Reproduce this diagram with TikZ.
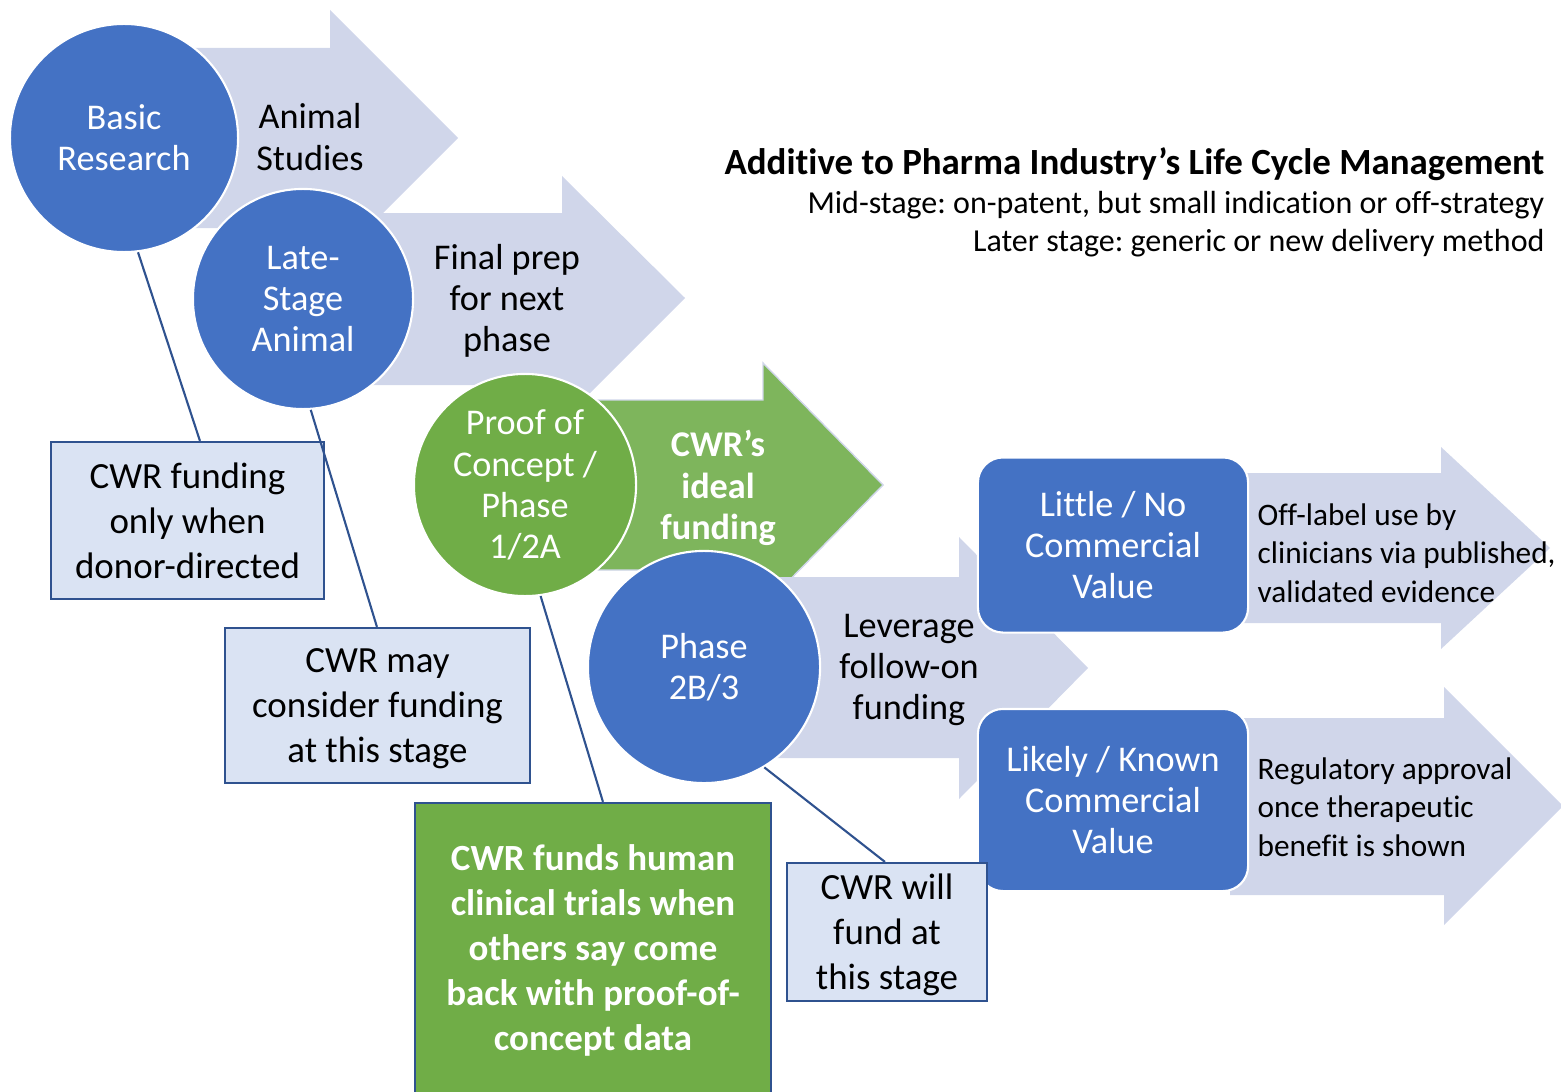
\documentclass[tikz,border=0pt]{standalone}
\usepackage{fontspec}
\setmainfont[RawFeature={-liga;-clig;-calt}]{Carlito}
\usetikzlibrary{positioning}

\definecolor{stageblue}{HTML}{4472C4}
\definecolor{stagegreen}{HTML}{70AD47}
\definecolor{idealgreen}{HTML}{7EB55C}
\definecolor{flowgrey}{HTML}{D0D6EA}
\definecolor{notefill}{HTML}{DAE3F3}
\definecolor{noteline}{HTML}{2F528F}

\newcommand\stagefont{\fontsize{10.3}{11.7}\selectfont}
\newcommand\notefont{\fontsize{10.5}{12.8}\selectfont}
\newcommand\outfont{\fontsize{8.9}{10.95}\selectfont}
\newcommand\subfont{\fontsize{9.1}{10.8}\selectfont}
\frenchspacing

\tikzset{
  flow/.style={fill=flowgrey},
  ideal/.style={fill=idealgreen, draw=flowgrey, line width=0.4pt},
  stage/.style={circle, fill=stageblue, draw=white, line width=0.6pt, text=white,
    align=center, inner sep=0pt, font=\stagefont},
  valuebox/.style={rectangle, rounded corners=0.25cm, fill=stageblue, draw=white,
    line width=0.6pt, text=white, align=center, inner sep=0pt, font=\stagefont},
  note/.style={rectangle, fill=notefill, draw=noteline, line width=0.6pt,
    align=center, inner sep=0pt, font=\notefont},
  flowtext/.style={align=center, inner sep=0pt, font=\stagefont},
  outcome/.style={align=left, inner sep=0pt, font=\outfont},
  lead/.style={draw=noteline, line width=0.6pt},
}

\begin{document}
\begin{tikzpicture}[x=0.01cm, y=-0.01cm]
  \useasboundingbox (0,0) rectangle (1561,1091);

  % stages
  \fill[flow] (180,48) -- (330,48) -- (330,10) -- (458,138) -- (330,266) -- (330,228) -- (180,228) -- cycle;
  \node[stage, minimum size=2.28cm] (basic) at (124,138) {Basic\\Research};
  \fill[flow] (350,213) -- (562,213) -- (562,176) -- (685,298) -- (562,421) -- (562,385) -- (350,385) -- cycle;
  \node[stage, minimum size=2.20cm] (late) at (303,299) {Late-\\Stage\\Animal};
  \filldraw[ideal] (560,400) -- (763,400) -- (763,363) -- (883,485) -- (763,607) -- (763,570) -- (560,570) -- cycle;
  \node[stage, fill=stagegreen, minimum size=2.22cm] (proof) at (525,485) {Proof of\\Concept /\\Phase\\1/2A};
  \fill[flow] (760,577) -- (959,577) -- (959,537) -- (1088,668) -- (959,799) -- (959,758) -- (760,758) -- cycle;
  \node[stage, minimum size=2.32cm] (phase) at (704,667) {Phase\\2B/3};

  % outcomes
  \fill[flow] (1230,473) -- (1441,473) -- (1441,447) -- (1550,548) -- (1441,649) -- (1441,623) -- (1230,623) -- cycle;
  \fill[flow] (1230,718) -- (1444,718) -- (1444,687) -- (1563,806) -- (1444,925) -- (1444,895) -- (1230,895) -- cycle;
  \node[valuebox, minimum width=2.70cm, minimum height=1.75cm] (littleVal) at (1113,545) {Little / No\\Commercial\\Value};
  \node[valuebox, minimum width=2.70cm, minimum height=1.82cm] (likelyVal) at (1113,800) {Likely / Known\\Commercial\\Value};

  \node[flowtext] (animalTxt) at (310,137) {Animal\\Studies};
  \node[flowtext] (prepTxt) at (507,301) {Final prep\\for next\\phase};
  \node[flowtext, text=white, font=\bfseries\stagefont] (idealTxt) at (718,488) {CWR’s\\ideal\\funding};
  \node[flowtext] (leverageTxt) at (909,670) {Leverage\\follow-on\\funding};
  \node[outcome, anchor=west] (offLabelTxt) at (1257,553) {Off-label use by\\clinicians via published,\\validated evidence};
  \node[outcome, anchor=west] (approvalTxt) at (1257,807) {Regulatory approval\\once therapeutic\\benefit is shown};

  % CWR notes
  \node[note, minimum width=2.73cm, minimum height=1.57cm] (donorNote) at (187.5,520.5) {CWR funding\\only when\\donor-directed};
  \node[note, minimum width=3.05cm, minimum height=1.55cm, text depth=-0.04cm] (mayNote) at (377.5,705.5) {CWR may\\consider funding\\at this stage};
  \node[note, fill=stagegreen, text=white, font=\bfseries\notefont, minimum width=3.56cm, minimum height=2.94cm] (trialNote) at (593,950) {CWR funds human\\clinical trials when\\others say come\\back with proof-of-\\concept data};
  \node[note, minimum width=2.00cm, minimum height=1.38cm, text depth=-0.04cm] (willNote) at (887,932) {CWR will\\fund at\\this stage};

  \draw[lead] (basic.-83) -- ([xshift=1.50cm]donorNote.north west);
  \draw[lead] (late.-86) -- ([xshift=1.53cm]mayNote.north west);
  \draw[lead] (proof.-82) -- ([xshift=1.89cm]trialNote.north west);
  \draw[lead] (phase.-59) -- ([xshift=0.99cm]willNote.north west);

  \node[anchor=east, inner sep=0pt, font=\bfseries\notefont] (lcmTitle) at (1545,164) {Additive to Pharma Industry’s Life Cycle Management};
  \node[anchor=east, align=right, inner sep=0pt, font=\subfont] (lcmSub) at (1545,224) {Mid-stage: on-patent, but small indication or off-strategy\\Later stage: generic or new delivery method};
\end{tikzpicture}
\end{document}
